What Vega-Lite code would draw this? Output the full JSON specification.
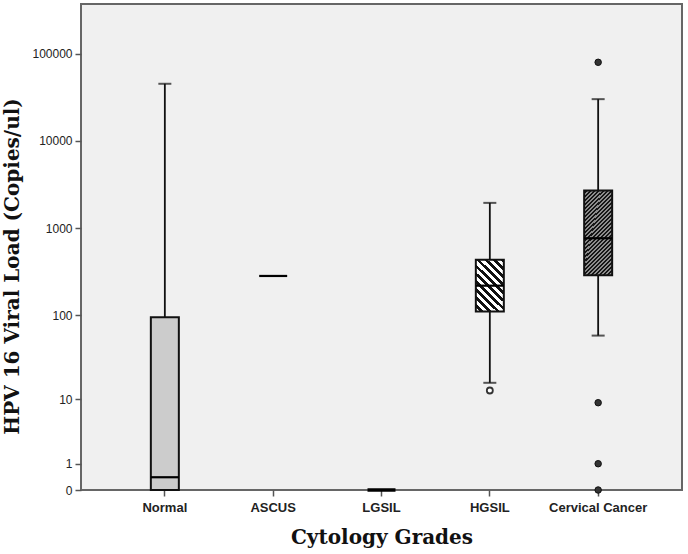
{
  "$schema": "https://vega.github.io/schema/vega-lite/v6.json",
  "width": 601,
  "height": 486,
  "autosize": "none",
  "padding": {"left": 81, "top": 4, "right": 6, "bottom": 64},
  "background": "#ffffff",
  "config": {
    "view": {"fill": "#f0f0f0", "stroke": "#666666", "strokeWidth": 2},
    "axis": {"grid": false, "domain": false, "tickColor": "#555555", "tickWidth": 1.5, "tickSize": 6, "labelColor": "#222222", "titleColor": "#111111"}
  },
  "datasets": {
    "stats": [
      {"grade": "Normal", "lower": 0, "q1": 0, "median": 0.4, "q3": 94, "upper": 45000},
      {"grade": "ASCUS", "lower": 282, "q1": 282, "median": 282, "q3": 282, "upper": 282},
      {"grade": "LGSIL", "lower": 0, "q1": 0, "median": 0, "q3": 0, "upper": 0},
      {"grade": "HGSIL", "lower": 15.9, "q1": 110, "median": 218, "q3": 434, "upper": 1944},
      {"grade": "Cervical Cancer", "lower": 57.7, "q1": 287, "median": 764, "q3": 2690, "upper": 30000}
    ],
    "outliers": [
      {"grade": "HGSIL", "value": 12.8},
      {"grade": "Cervical Cancer", "value": 79300},
      {"grade": "Cervical Cancer", "value": 9},
      {"grade": "Cervical Cancer", "value": 1},
      {"grade": "Cervical Cancer", "value": 0}
    ]
  },
  "encoding": {
    "x": {
      "field": "grade", "type": "nominal",
      "sort": ["Normal", "ASCUS", "LGSIL", "HGSIL", "Cervical Cancer"],
      "scale": {"domain": ["Normal", "ASCUS", "LGSIL", "HGSIL", "Cervical Cancer"], "paddingInner": 0, "paddingOuter": 0.274},
      "axis": {"title": "Cytology Grades", "labelAngle": 0, "labelFont": "Liberation Sans", "labelFontWeight": "bold", "labelFontSize": 13, "labelPadding": 5, "titleFont": "DejaVu Serif", "titleFontWeight": "bold", "titleFontSize": 20, "titlePadding": 13}
    }
  },
  "layer": [
    {
      "data": {"name": "stats"},
      "transform": [{"filter": "datum.upper > datum.lower"}],
      "mark": {"type": "rule", "color": "#111111", "strokeWidth": 1.8},
      "encoding": {
        "y": {"field": "lower", "type": "quantitative",
          "scale": {"type": "symlog", "constant": 1, "domain": [0, 369000], "nice": false, "zero": true},
          "axis": {"title": "HPV 16 Viral Load (Copies/ul)", "values": [0, 1, 10, 100, 1000, 10000, 100000], "format": "d", "labelFont": "Liberation Sans", "labelFontSize": 12, "labelPadding": 3, "titleFont": "DejaVu Serif", "titleFontWeight": "bold", "titleFontSize": 20, "titlePadding": 9, "titleY": 262}},
        "y2": {"field": "upper"}
      }
    },
    {
      "data": {"name": "stats"},
      "transform": [{"filter": "datum.upper > datum.lower"}],
      "mark": {"type": "tick", "color": "#111111", "size": 13, "thickness": 2},
      "encoding": {"y": {"field": "upper", "type": "quantitative"}}
    },
    {
      "data": {"name": "stats"},
      "transform": [{"filter": "datum.upper > datum.lower && datum.lower > 0"}],
      "mark": {"type": "tick", "color": "#111111", "size": 13, "thickness": 2},
      "encoding": {"y": {"field": "lower", "type": "quantitative"}}
    },
    {
      "data": {"name": "stats"},
      "transform": [{"filter": "datum.grade == 'Normal'"}],
      "mark": {"type": "bar", "width": 28, "fill": "#cccccc", "stroke": "#111111", "strokeWidth": 2},
      "encoding": {"y": {"field": "q1", "type": "quantitative"}, "y2": {"field": "q3"}}
    },
    {
      "data": {"name": "stats"},
      "transform": [{"filter": "datum.grade == 'HGSIL'"}],
      "mark": {"type": "bar", "width": 28, "stroke": "#111111", "strokeWidth": 2,
        "fill": {"gradient": "linear", "x1": 0, "y1": 1, "x2": 0.631, "y2": -0.195, "stops": [
          {"offset": 0, "color": "#ffffff"}, {"offset": 0.055, "color": "#ffffff"}, {"offset": 0.055, "color": "#111111"}, {"offset": 0.1, "color": "#111111"},
          {"offset": 0.1, "color": "#ffffff"}, {"offset": 0.155, "color": "#ffffff"}, {"offset": 0.155, "color": "#111111"}, {"offset": 0.2, "color": "#111111"},
          {"offset": 0.2, "color": "#ffffff"}, {"offset": 0.255, "color": "#ffffff"}, {"offset": 0.255, "color": "#111111"}, {"offset": 0.3, "color": "#111111"},
          {"offset": 0.3, "color": "#ffffff"}, {"offset": 0.355, "color": "#ffffff"}, {"offset": 0.355, "color": "#111111"}, {"offset": 0.4, "color": "#111111"},
          {"offset": 0.4, "color": "#ffffff"}, {"offset": 0.455, "color": "#ffffff"}, {"offset": 0.455, "color": "#111111"}, {"offset": 0.5, "color": "#111111"},
          {"offset": 0.5, "color": "#ffffff"}, {"offset": 0.555, "color": "#ffffff"}, {"offset": 0.555, "color": "#111111"}, {"offset": 0.6, "color": "#111111"},
          {"offset": 0.6, "color": "#ffffff"}, {"offset": 0.655, "color": "#ffffff"}, {"offset": 0.655, "color": "#111111"}, {"offset": 0.7, "color": "#111111"},
          {"offset": 0.7, "color": "#ffffff"}, {"offset": 0.755, "color": "#ffffff"}, {"offset": 0.755, "color": "#111111"}, {"offset": 0.8, "color": "#111111"},
          {"offset": 0.8, "color": "#ffffff"}, {"offset": 0.855, "color": "#ffffff"}, {"offset": 0.855, "color": "#111111"}, {"offset": 0.9, "color": "#111111"},
          {"offset": 0.9, "color": "#ffffff"}, {"offset": 0.955, "color": "#ffffff"}, {"offset": 0.955, "color": "#111111"}, {"offset": 1, "color": "#111111"}
        ]}},
      "encoding": {"y": {"field": "q1", "type": "quantitative"}, "y2": {"field": "q3"}}
    },
    {
      "data": {"name": "stats"},
      "transform": [{"filter": "datum.grade == 'Cervical Cancer'"}],
      "mark": {"type": "bar", "width": 28, "stroke": "#111111", "strokeWidth": 2,
        "fill": {"gradient": "linear", "x1": 0, "y1": 0, "x2": 0.391, "y2": 1.199, "stops": [
          {"offset": 0, "color": "#8c8c8c"}, {"offset": 0.0179, "color": "#8c8c8c"}, {"offset": 0.0179, "color": "#151515"}, {"offset": 0.0357, "color": "#151515"},
          {"offset": 0.0357, "color": "#8c8c8c"}, {"offset": 0.0536, "color": "#8c8c8c"}, {"offset": 0.0536, "color": "#151515"}, {"offset": 0.0714, "color": "#151515"},
          {"offset": 0.0714, "color": "#8c8c8c"}, {"offset": 0.0893, "color": "#8c8c8c"}, {"offset": 0.0893, "color": "#151515"}, {"offset": 0.1071, "color": "#151515"},
          {"offset": 0.1071, "color": "#8c8c8c"}, {"offset": 0.125, "color": "#8c8c8c"}, {"offset": 0.125, "color": "#151515"}, {"offset": 0.1429, "color": "#151515"},
          {"offset": 0.1429, "color": "#8c8c8c"}, {"offset": 0.1607, "color": "#8c8c8c"}, {"offset": 0.1607, "color": "#151515"}, {"offset": 0.1786, "color": "#151515"},
          {"offset": 0.1786, "color": "#8c8c8c"}, {"offset": 0.1964, "color": "#8c8c8c"}, {"offset": 0.1964, "color": "#151515"}, {"offset": 0.2143, "color": "#151515"},
          {"offset": 0.2143, "color": "#8c8c8c"}, {"offset": 0.2321, "color": "#8c8c8c"}, {"offset": 0.2321, "color": "#151515"}, {"offset": 0.25, "color": "#151515"},
          {"offset": 0.25, "color": "#8c8c8c"}, {"offset": 0.2679, "color": "#8c8c8c"}, {"offset": 0.2679, "color": "#151515"}, {"offset": 0.2857, "color": "#151515"},
          {"offset": 0.2857, "color": "#8c8c8c"}, {"offset": 0.3036, "color": "#8c8c8c"}, {"offset": 0.3036, "color": "#151515"}, {"offset": 0.3214, "color": "#151515"},
          {"offset": 0.3214, "color": "#8c8c8c"}, {"offset": 0.3393, "color": "#8c8c8c"}, {"offset": 0.3393, "color": "#151515"}, {"offset": 0.3571, "color": "#151515"},
          {"offset": 0.3571, "color": "#8c8c8c"}, {"offset": 0.375, "color": "#8c8c8c"}, {"offset": 0.375, "color": "#151515"}, {"offset": 0.3929, "color": "#151515"},
          {"offset": 0.3929, "color": "#8c8c8c"}, {"offset": 0.4107, "color": "#8c8c8c"}, {"offset": 0.4107, "color": "#151515"}, {"offset": 0.4286, "color": "#151515"},
          {"offset": 0.4286, "color": "#8c8c8c"}, {"offset": 0.4464, "color": "#8c8c8c"}, {"offset": 0.4464, "color": "#151515"}, {"offset": 0.4643, "color": "#151515"},
          {"offset": 0.4643, "color": "#8c8c8c"}, {"offset": 0.4821, "color": "#8c8c8c"}, {"offset": 0.4821, "color": "#151515"}, {"offset": 0.5, "color": "#151515"},
          {"offset": 0.5, "color": "#8c8c8c"}, {"offset": 0.5179, "color": "#8c8c8c"}, {"offset": 0.5179, "color": "#151515"}, {"offset": 0.5357, "color": "#151515"},
          {"offset": 0.5357, "color": "#8c8c8c"}, {"offset": 0.5536, "color": "#8c8c8c"}, {"offset": 0.5536, "color": "#151515"}, {"offset": 0.5714, "color": "#151515"},
          {"offset": 0.5714, "color": "#8c8c8c"}, {"offset": 0.5893, "color": "#8c8c8c"}, {"offset": 0.5893, "color": "#151515"}, {"offset": 0.6071, "color": "#151515"},
          {"offset": 0.6071, "color": "#8c8c8c"}, {"offset": 0.625, "color": "#8c8c8c"}, {"offset": 0.625, "color": "#151515"}, {"offset": 0.6429, "color": "#151515"},
          {"offset": 0.6429, "color": "#8c8c8c"}, {"offset": 0.6607, "color": "#8c8c8c"}, {"offset": 0.6607, "color": "#151515"}, {"offset": 0.6786, "color": "#151515"},
          {"offset": 0.6786, "color": "#8c8c8c"}, {"offset": 0.6964, "color": "#8c8c8c"}, {"offset": 0.6964, "color": "#151515"}, {"offset": 0.7143, "color": "#151515"},
          {"offset": 0.7143, "color": "#8c8c8c"}, {"offset": 0.7321, "color": "#8c8c8c"}, {"offset": 0.7321, "color": "#151515"}, {"offset": 0.75, "color": "#151515"},
          {"offset": 0.75, "color": "#8c8c8c"}, {"offset": 0.7679, "color": "#8c8c8c"}, {"offset": 0.7679, "color": "#151515"}, {"offset": 0.7857, "color": "#151515"},
          {"offset": 0.7857, "color": "#8c8c8c"}, {"offset": 0.8036, "color": "#8c8c8c"}, {"offset": 0.8036, "color": "#151515"}, {"offset": 0.8214, "color": "#151515"},
          {"offset": 0.8214, "color": "#8c8c8c"}, {"offset": 0.8393, "color": "#8c8c8c"}, {"offset": 0.8393, "color": "#151515"}, {"offset": 0.8571, "color": "#151515"},
          {"offset": 0.8571, "color": "#8c8c8c"}, {"offset": 0.875, "color": "#8c8c8c"}, {"offset": 0.875, "color": "#151515"}, {"offset": 0.8929, "color": "#151515"},
          {"offset": 0.8929, "color": "#8c8c8c"}, {"offset": 0.9107, "color": "#8c8c8c"}, {"offset": 0.9107, "color": "#151515"}, {"offset": 0.9286, "color": "#151515"},
          {"offset": 0.9286, "color": "#8c8c8c"}, {"offset": 0.9464, "color": "#8c8c8c"}, {"offset": 0.9464, "color": "#151515"}, {"offset": 0.9643, "color": "#151515"},
          {"offset": 0.9643, "color": "#8c8c8c"}, {"offset": 0.9821, "color": "#8c8c8c"}, {"offset": 0.9821, "color": "#151515"}, {"offset": 1, "color": "#151515"}
        ]}},
      "encoding": {"y": {"field": "q1", "type": "quantitative"}, "y2": {"field": "q3"}}
    },
    {
      "data": {"name": "stats"},
      "transform": [{"filter": "datum.grade != 'LGSIL'"}],
      "mark": {"type": "tick", "color": "#000000", "size": 28, "thickness": 2.2, "opacity": 1},
      "encoding": {"y": {"field": "median", "type": "quantitative"}}
    },
    {
      "data": {"name": "stats"},
      "transform": [{"filter": "datum.grade == 'LGSIL'"}],
      "mark": {"type": "tick", "color": "#000000", "size": 28, "thickness": 3.5, "opacity": 1},
      "encoding": {"y": {"field": "median", "type": "quantitative"}}
    },
    {
      "data": {"name": "outliers"},
      "transform": [{"filter": "datum.grade == 'HGSIL'"}],
      "mark": {"type": "point", "filled": true, "fill": "#ffffff", "stroke": "#333333", "strokeWidth": 1.8, "size": 36, "opacity": 1},
      "encoding": {"y": {"field": "value", "type": "quantitative"}}
    },
    {
      "data": {"name": "outliers"},
      "transform": [{"filter": "datum.grade == 'Cervical Cancer'"}],
      "mark": {"type": "point", "filled": true, "fill": "#333333", "stroke": "#111111", "strokeWidth": 1, "size": 42, "opacity": 1},
      "encoding": {"y": {"field": "value", "type": "quantitative"}}
    }
  ]
}
